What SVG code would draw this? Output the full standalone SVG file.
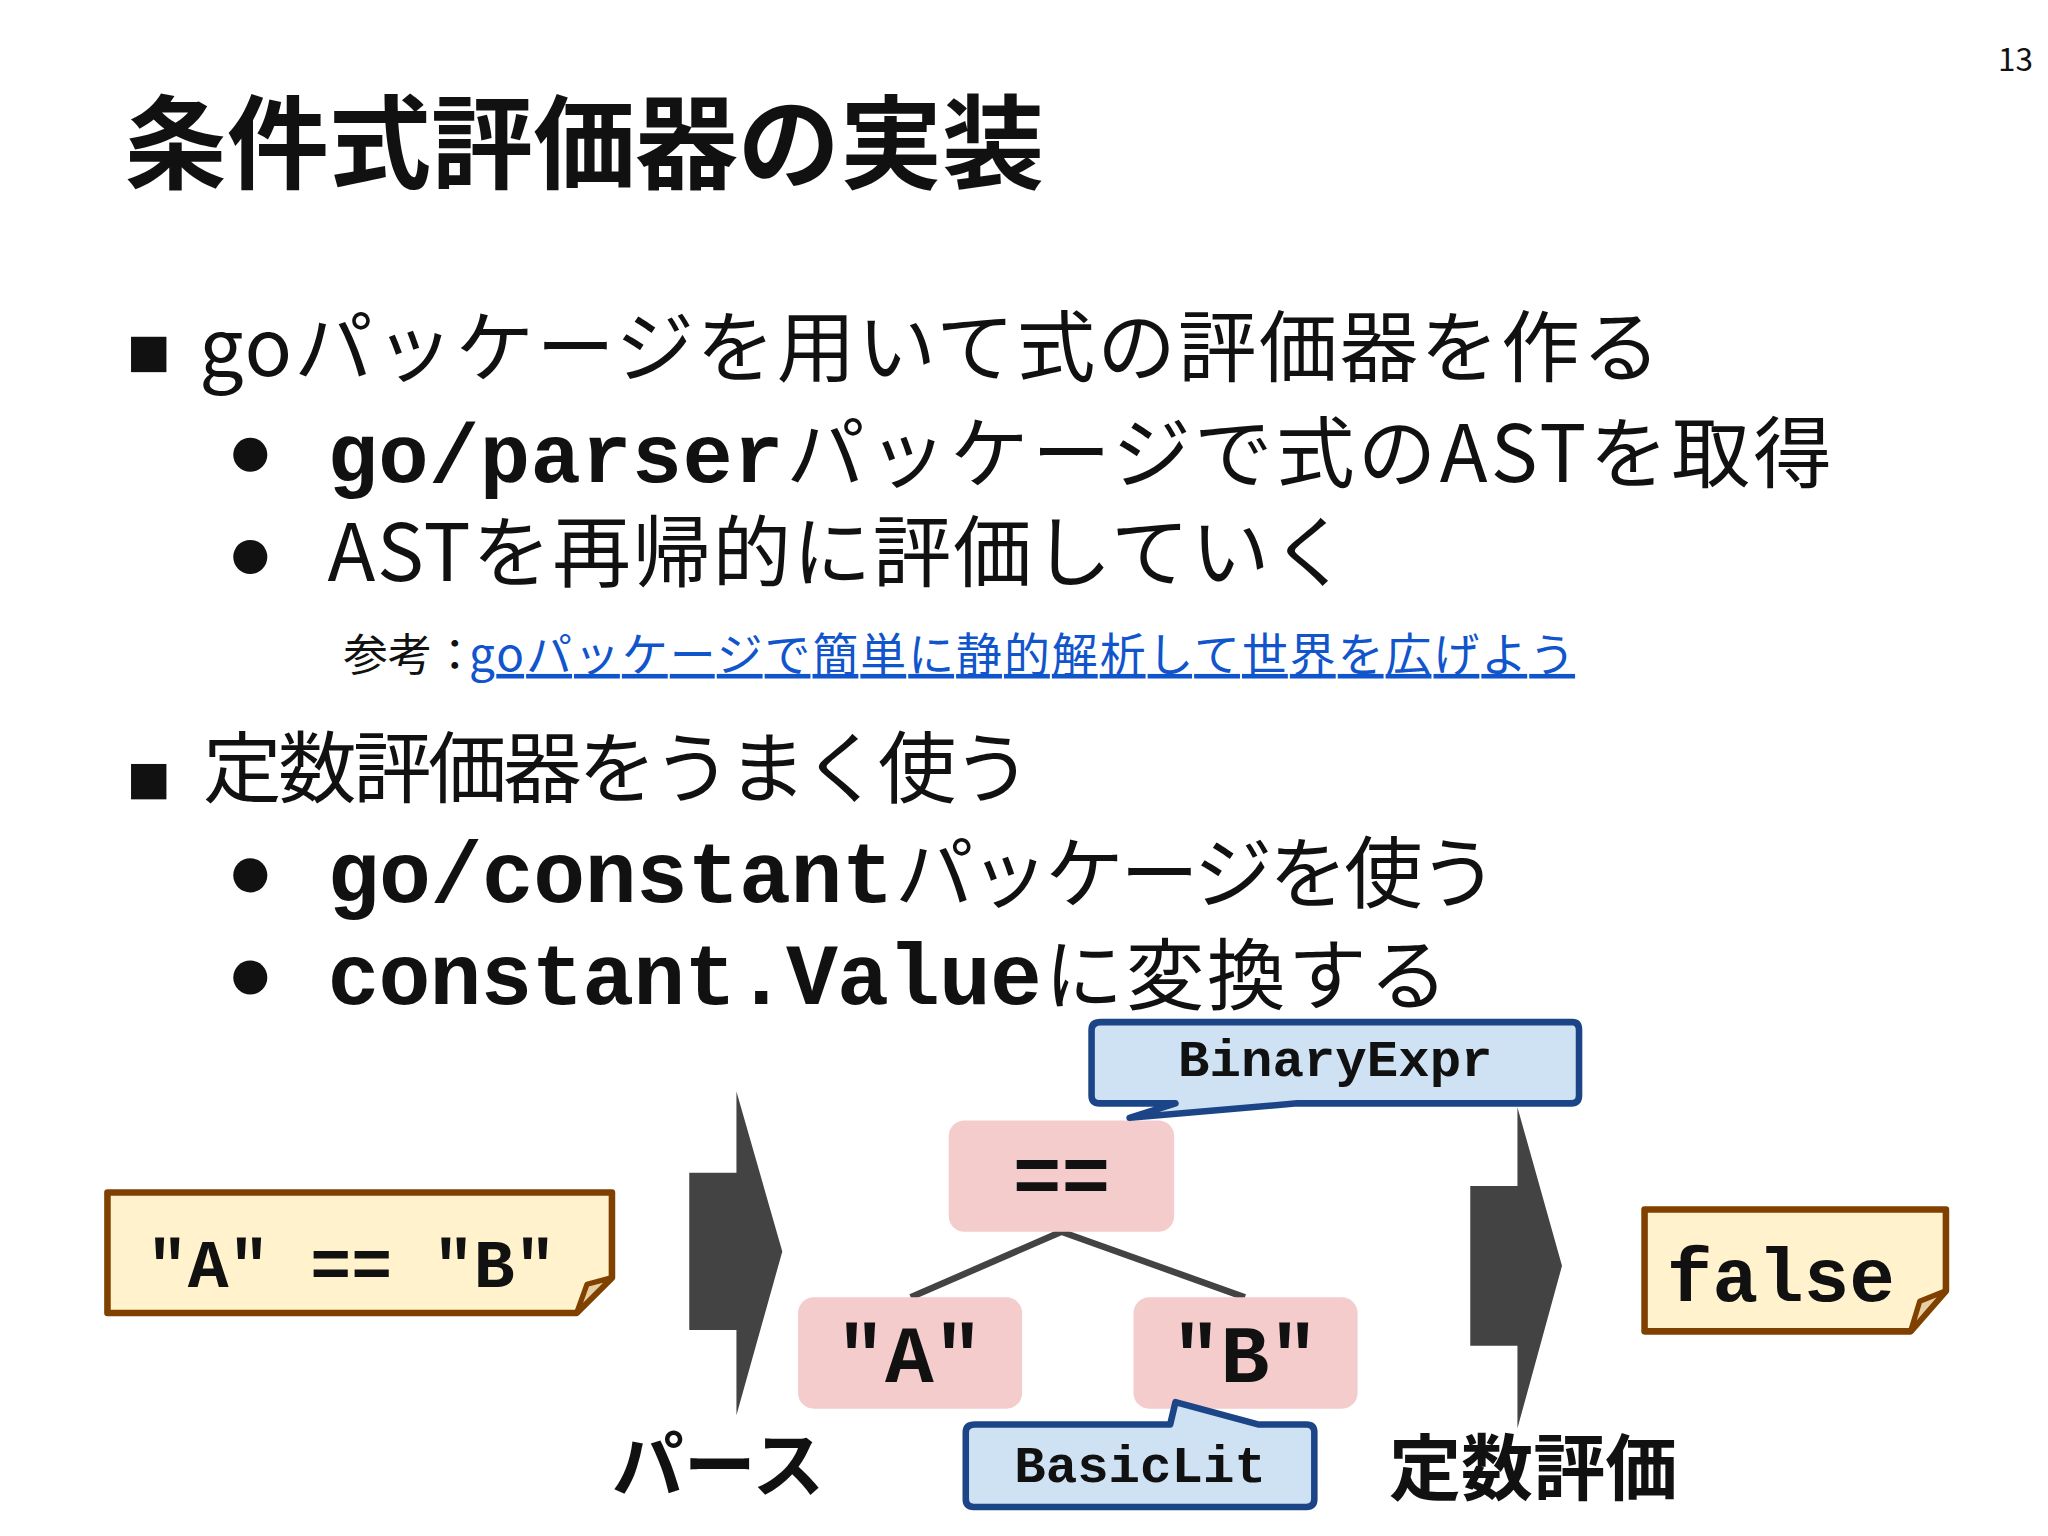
<svg xmlns="http://www.w3.org/2000/svg" width="2048" height="1536" viewBox="0 0 2048 1536">
<style>
.jp{font-family:"Noto Sans CJK JP","Noto Sans",sans-serif;fill:#111}
.b{font-weight:bold}
.mono{font-family:"Liberation Mono","Courier New",monospace;font-weight:bold;fill:#111}
.note{fill:#fff2cc;stroke:#7f4000;stroke-width:5;stroke-linejoin:round}
.fold{fill:#e6cfa0;stroke:#7f4000;stroke-width:4;stroke-linejoin:round}
.node{fill:#f4cccc}
.call{fill:#cfe2f3;stroke:#1c4587;stroke-width:5;stroke-linejoin:round}
.arr{fill:#434343}
.edge{stroke:#434343;stroke-width:5;fill:none}
</style>
<rect width="2048" height="1536" fill="#fff"/>
<g transform="scale(1.3104)">
<text x="1538" y="54" class="jp" font-size="24" text-anchor="middle" font-family="Roboto">13</text>
<text x="95" y="138" class="jp b" font-size="78">条件式評価器の実装</text>
<rect x="100" y="257" width="27" height="27" fill="#111"/>
<text x="152" y="287" class="jp" font-size="60" textLength="1115">goパッケージを用いて式の評価器を作る</text>
<circle cx="191" cy="347" r="13" fill="#111"/>
<text x="250" y="368" class="mono" font-size="64" textLength="348">go/parser</text>
<text x="600" y="368" class="jp" font-size="60" textLength="798">パッケージで式のASTを取得</text>
<circle cx="191" cy="425" r="13" fill="#111"/>
<text x="250" y="443" class="jp" font-size="60" textLength="780">ASTを再帰的に評価していく</text>
<text x="262" y="512" class="jp" font-size="34">参考：</text>
<text x="358" y="512" class="jp" font-size="35" fill="#1155cc" style="fill:#1155cc" text-decoration="underline" textLength="844">goパッケージで簡単に静的解析して世界を広げよう</text>
<rect x="100" y="583" width="27" height="27" fill="#111"/>
<text x="155" y="608" class="jp" font-size="60" textLength="632">定数評価器をうまく使う</text>
<circle cx="191" cy="668" r="13" fill="#111"/>
<text x="250" y="688" class="mono" font-size="66" textLength="432">go/constant</text>
<text x="683" y="688" class="jp" font-size="60" textLength="460">パッケージを使う</text>
<circle cx="191" cy="746" r="13" fill="#111"/>
<text x="250" y="766" class="mono" font-size="66" textLength="545">constant.Value</text>
<text x="797" y="766" class="jp" font-size="60" textLength="308">に変換する</text>

<g id="edges">
<line class="edge" x1="810" y1="940" x2="695" y2="990"/>
<line class="edge" x1="810" y1="940" x2="950" y2="990"/>
</g>
<g id="src">
<path class="note" d="M82,910 H467 V975 L440,1002 H82 Z"/>
<path class="fold" d="M440,1002 L448,980 L467,975 Z"/>
<text x="268" y="982" class="mono" font-size="52" text-anchor="middle" xml:space="preserve">"A" == "B"</text>
</g>
<g id="parse">
<path class="arr" d="M526,895 H562 V833 L597,955 L562,1080 V1015 H526 Z"/>
<text x="548" y="1138" class="jp b" font-size="55" text-anchor="middle">パース</text>
</g>
<g id="eq">
<rect class="node" x="724" y="855" width="172" height="85" rx="12"/>
<text x="810" y="918" class="mono" font-size="62" text-anchor="middle">==</text>
</g>
<g id="a">
<rect class="node" x="609" y="990" width="171" height="85" rx="12"/>
<text x="694" y="1055" class="mono" font-size="62" text-anchor="middle">"A"</text>
</g>
<g id="b">
<rect class="node" x="865" y="990" width="171" height="85" rx="12"/>
<text x="950" y="1055" class="mono" font-size="62" text-anchor="middle">"B"</text>
</g>
<g id="binexpr">
<path class="call" d="M840,780 H1200 Q1205,780 1205,786 V836 Q1205,842 1199,842 H990 L862,853 L897,842 H839 Q833,842 833,836 V786 Q833,780 840,780 Z"/>
<text x="1019" y="821" class="mono" font-size="40" text-anchor="middle">BinaryExpr</text>
</g>
<g id="basiclit">
<path class="call" d="M744,1087 H893 L897,1070 L960,1087 H997 Q1003,1087 1003,1093 V1144 Q1003,1150 997,1150 H743 Q737,1150 737,1144 V1093 Q737,1087 744,1087 Z"/>
<text x="870" y="1131" class="mono" font-size="40" text-anchor="middle">BasicLit</text>
</g>
<g id="evalarrow">
<path class="arr" d="M1122,905 H1158 V845 L1192,966 L1158,1090 V1027 H1122 Z"/>
<text x="1170" y="1140" class="jp b" font-size="55" text-anchor="middle">定数評価</text>
</g>
<g id="result">
<path class="note" d="M1255,923 H1485 V985 L1458,1016 H1255 Z"/>
<path class="fold" d="M1458,1016 L1465,993 L1485,985 Z"/>
<text x="1272" y="993" class="mono" font-size="58">false</text>
</g>
</g>
</svg>
